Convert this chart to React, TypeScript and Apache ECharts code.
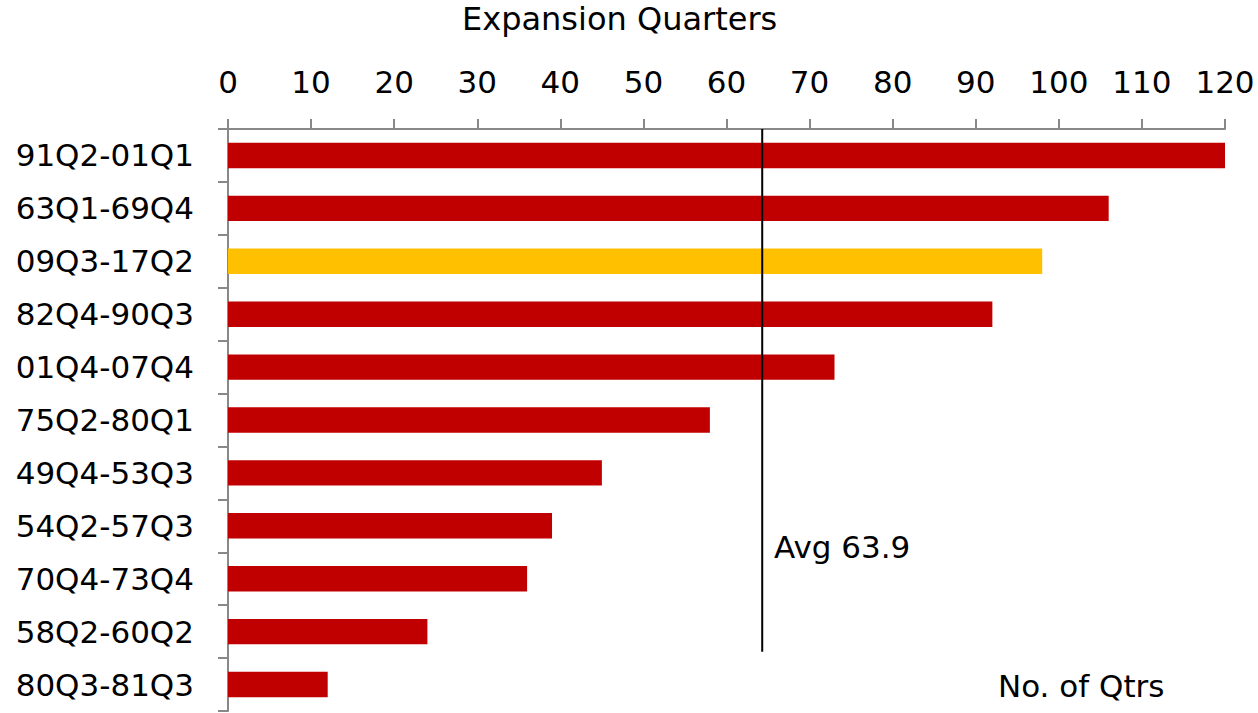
import React, { useEffect, useRef } from "react";
import * as echarts from "echarts";

const categories = [
  "91Q2-01Q1",
  "63Q1-69Q4",
  "09Q3-17Q2",
  "82Q4-90Q3",
  "01Q4-07Q4",
  "75Q2-80Q1",
  "49Q4-53Q3",
  "54Q2-57Q3",
  "70Q4-73Q4",
  "58Q2-60Q2",
  "80Q3-81Q3",
];
const quarters = [120, 106, 98, 92, 73, 58, 45, 39, 36, 24, 12];
const highlightCategory = "09Q3-17Q2";
const avgValue = 63.9;
const avgLinePosition = 64.3;
const avgLineRows = [0, 9.88];
const xMin = 0;
const xMax = 120;
const xInterval = 10;

const titleText = "Expansion Quarters";
const unitText = "No. of Qtrs";

const FONT = "DejaVu Sans";

export default function App() {
  const ref = useRef<HTMLDivElement>(null);
  useEffect(() => {
    document.body.style.margin = "0";
    const chart = echarts.init(ref.current!, null, { renderer: "svg" });
    const option: any = {
      animation: false,
      backgroundColor: "#ffffff",
      textStyle: { fontFamily: FONT },
      grid: { left: 228, top: 129, right: 33, bottom: 2, containLabel: false },
      xAxis: {
        type: "value",
        position: "top",
        min: xMin,
        max: xMax,
        interval: xInterval,
        splitLine: { show: false },
        axisLine: { show: true, lineStyle: { color: "#888888", width: 2 } },
        axisTick: { show: true, length: 10, lineStyle: { color: "#888888", width: 2 } },
        axisLabel: { color: "#000000", fontSize: 31, fontFamily: FONT, margin: 32 },
      },
      yAxis: [
        {
          type: "category",
          data: categories,
          inverse: true,
          axisLine: { show: true, lineStyle: { color: "#888888", width: 2 } },
          axisTick: { show: true, length: 10, lineStyle: { color: "#888888", width: 2 } },
          axisLabel: { color: "#000000", fontSize: 31, fontFamily: FONT, margin: 34 },
          splitLine: { show: false },
        },
        {
          type: "value",
          min: 0,
          max: categories.length,
          inverse: true,
          show: false,
        },
      ],
      series: [
        {
          type: "bar",
          yAxisIndex: 0,
          barWidth: "48%",
          data: quarters.map((v, i) => ({
            value: v,
            itemStyle: { color: categories[i] === highlightCategory ? "#FFC000" : "#C00000" },
          })),
        },
        {
          type: "line",
          yAxisIndex: 1,
          symbol: "none",
          lineStyle: { color: "#000000", width: 2 },
          data: avgLineRows.map((r) => [avgLinePosition, r]),
          z: 5,
        },
      ],
      graphic: [
        {
          type: "text",
          left: 462,
          top: 3,
          style: { text: titleText, fontSize: 32, fontFamily: FONT, fill: "#000000" },
        },
        {
          type: "text",
          left: 774,
          top: 531,
          style: { text: "Avg " + avgValue.toFixed(1), fontSize: 31, fontFamily: FONT, fill: "#000000" },
        },
        {
          type: "text",
          left: 998,
          top: 670,
          style: { text: unitText, fontSize: 31, fontFamily: FONT, fill: "#000000" },
        },
      ],
    };
    chart.setOption(option);
    return () => chart.dispose();
  }, []);
  return <div ref={ref} style={{ width: 1258, height: 713 }} />;
}
